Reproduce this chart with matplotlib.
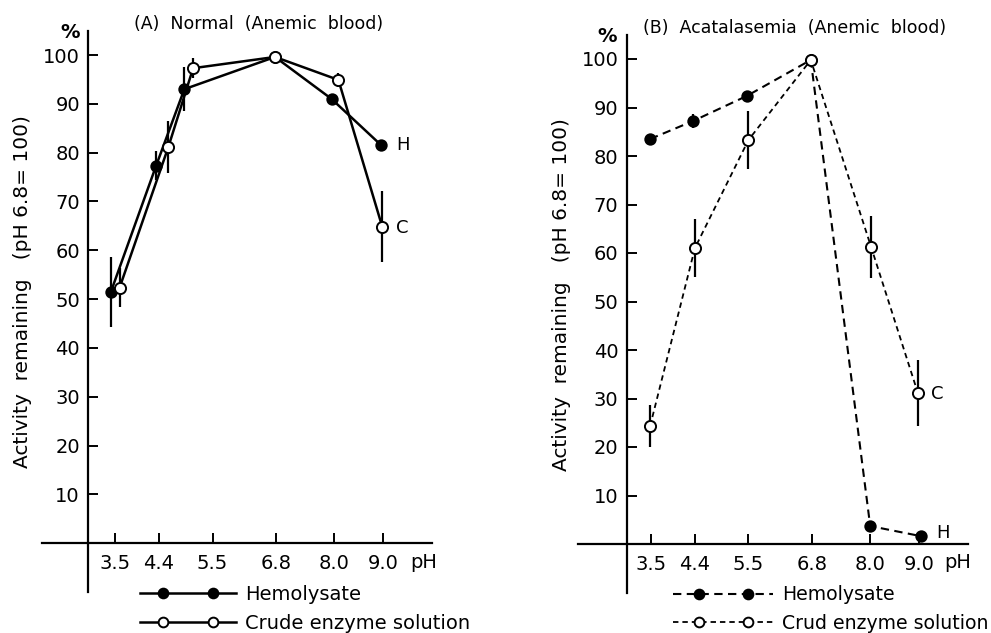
import matplotlib
matplotlib.use("Agg")
import matplotlib.pyplot as plt
from matplotlib.legend_handler import HandlerLine2D
from matplotlib.lines import Line2D

plt.rcParams['font.family'] = ['DejaVu Sans']

# ---------------- data ----------------
xticks = [3.5, 4.4, 5.5, 6.8, 8.0, 9.0]
xtick_labels = ["3.5", "4.4", "5.5", "6.8", "8.0", "9.0"]
yticks = [10, 20, 30, 40, 50, 60, 70, 80, 90, 100]
ytick_labels = ["10", "20", "30", "40", "50", "60", "70", "80", "90", "100"]

# Panel A: Normal (Anemic blood)
ph_A_hemo = [3.41, 4.34, 4.92, 6.78, 7.94, 8.96]
act_A_hemo = [51.4, 77.3, 93.0, 99.6, 91.0, 81.5]
err_A_hemo = [7.2, 3.0, 4.5, 0.4, 1.0, 0.8]
ph_A_crude = [3.59, 4.59, 5.10, 6.78, 8.08, 8.98]
act_A_crude = [52.3, 81.1, 97.3, 99.6, 94.9, 64.8]
err_A_crude = [4.0, 5.3, 2.0, 0.0, 1.5, 7.3]

# Panel B: Acatalasemia (Anemic blood)
ph_B_hemo = [3.48, 4.36, 5.47, 6.78, 8.00, 9.05]
act_B_hemo = [83.5, 87.2, 92.4, 99.8, 3.7, 1.6]
err_B_hemo = [0.5, 1.5, 0.5, 0.3, 0.5, 0.5]
ph_B_crude = [3.48, 4.40, 5.50, 6.78, 8.02, 8.98]
act_B_crude = [24.3, 61.0, 83.3, 99.8, 61.2, 31.1]
err_B_crude = [4.4, 6.0, 6.0, 0.0, 6.4, 6.8]

W, H = 991, 633
fig = plt.figure(figsize=(W / 100, H / 100), dpi=100)


class FullLineHandler(HandlerLine2D):
    """Legend handle: line across full handle length, two markers inset."""

    def create_artists(self, legend, orig_handle, xdescent, ydescent,
                       width, height, fontsize, trans):
        y = (height - ydescent) / 2
        pad = self._marker_pad * fontsize
        line = Line2D([-xdescent, width - xdescent], [y, y])
        self.update_prop(line, orig_handle, legend)
        line.set_marker("None")
        mk = Line2D([-xdescent + pad, width - xdescent - pad], [y, y])
        self.update_prop(mk, orig_handle, legend)
        mk.set_linestyle("None")
        mk.set_markersize(7)
        line.set_transform(trans)
        mk.set_transform(trans)
        return [line, mk]


def make_axes(px_left, px_right, px_bottom, px_top, yleft):
    ax = fig.add_axes([px_left / W, 1 - px_bottom / H,
                       (px_right - px_left) / W, (px_bottom - px_top) / H])
    ax.set_xlim(2.0, 10.0)
    ax.set_ylim(-10, 105)
    for s in ("top", "right"):
        ax.spines[s].set_visible(False)
    ax.spines["bottom"].set_position(("data", 0))
    ax.spines["left"].set_position(("data", yleft))
    for s in ("bottom", "left"):
        ax.spines[s].set_linewidth(1.6)
    ax.set_xticks(xticks)
    ax.set_xticklabels(xtick_labels)
    ax.set_yticks(yticks)
    ax.set_yticklabels(ytick_labels)
    ax.tick_params(axis="both", direction="in", length=7, width=1.4,
                   labelsize=14, colors="black")
    ax.tick_params(axis="x", pad=8)
    ax.tick_params(axis="y", pad=6)
    ax.patch.set_alpha(0)
    return ax


def draw_series(ax, x, y, e, filled, ls, lw):
    ax.errorbar(x, y, yerr=e, fmt="none", ecolor="black", elinewidth=1.6,
                capsize=0, zorder=2)
    line, = ax.plot(x, y, color="black", linestyle=ls, linewidth=lw,
                    marker="o", markersize=7.5 if filled else 8,
                    markerfacecolor="black" if filled else "white",
                    markeredgecolor="black", markeredgewidth=1.4, zorder=3)
    return line


def add_legend(ax, handles, labels, anchor, hlen, tpad, mpad, fs):
    h = FullLineHandler(marker_pad=mpad, numpoints=2)
    return ax.legend(handles, labels, loc="upper left", bbox_to_anchor=anchor,
                     frameon=False, fontsize=fs, numpoints=2,
                     handlelength=hlen, handletextpad=tpad, labelspacing=0.5,
                     borderpad=0, borderaxespad=0,
                     handler_map={hd: h for hd in handles})


# ---------------- Panel A ----------------
axA = make_axes(42, 432, 592, 30.6, 2.95)
hA = draw_series(axA, ph_A_hemo, act_A_hemo, err_A_hemo, True, "-", 1.8)
cA = draw_series(axA, ph_A_crude, act_A_crude, err_A_crude, False, "-", 1.8)
axA.text(9.4, 81.5, "H", fontsize=13, va="center", ha="center")
axA.text(9.4, 64.6, "C", fontsize=13, va="center", ha="center")
axA.text(9.82, -3.9, "pH", fontsize=14, va="center", ha="center")
axA.text(2.58, 104.7, "%", fontsize=14, fontweight="bold", va="center", ha="center")
axA.text(6.44, 106.4, "(A)  Normal  (Anemic  blood)", fontsize=12.5,
         va="center", ha="center")
axA.text(1.6, 51.5, "Activity  remaining   (pH 6.8= 100)", fontsize=14.5,
         rotation=90, va="center", ha="center")
add_legend(axA, [hA, cA], ["Hemolysate", "Crude enzyme solution"],
           (0.251, 0.0125), 4.94, 0.46, 1.2, 14)

# ---------------- Panel B ----------------
axB = make_axes(578, 967.6, 592.5, 34.75, 3.0)
hB = draw_series(axB, ph_B_hemo, act_B_hemo, err_B_hemo, True, (0, (4, 2.6)), 1.5)
cB = draw_series(axB, ph_B_crude, act_B_crude, err_B_crude, False, (0, (3, 2.2)), 1.3)
axB.text(9.37, 31.0, "C", fontsize=13, va="center", ha="center")
axB.text(9.5, 2.3, "H", fontsize=13, va="center", ha="center")
axB.text(9.8, -3.9, "pH", fontsize=14, va="center", ha="center")
axB.text(2.6, 104.7, "%", fontsize=14, fontweight="bold", va="center", ha="center")
axB.text(6.44, 106.4, "(B)  Acatalasemia  (Anemic  blood)", fontsize=12.5,
         va="center", ha="center")
axB.text(1.67, 51.5, "Activity  remaining   (pH 6.8= 100)", fontsize=14.5,
         rotation=90, va="center", ha="center")
add_legend(axB, [hB, cB], ["Hemolysate", "Crud enzyme solution"],
           (0.244, 0.013), 5.3, 0.45, 1.35, 13.6)

fig.savefig("out.png", dpi=100, facecolor="white")
